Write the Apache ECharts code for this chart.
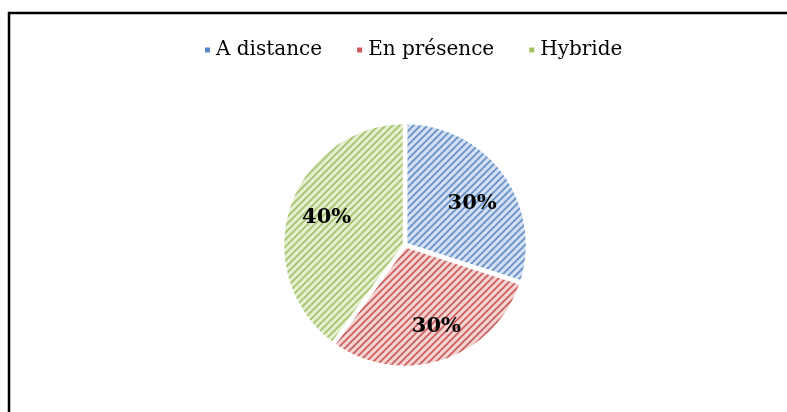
<!DOCTYPE html>
<html lang="fr">
<head>
    <meta charset="UTF-8">
    <title>Modalité</title>
    <style>
        html, body { margin: 0; padding: 0; background: #fff; }
        #chart { width: 787px; height: 412px; }
    </style>
</head>
<body>
    <div id="chart"></div>
    <script src="https://cdn.jsdelivr.net/npm/echarts@6/dist/echarts.min.js"></script>
    <script>
    var categories = ['A distance', 'En présence', 'Hybride'];
    var values = [30, 30, 40];
    var baseColors = ['#d3e0f1', '#f4d3d3', '#e3eed0'];
    var stripeColors = ['#6690cb', '#cd5e5c', '#a5c46a'];
    var legendColors = ['#5b87c6', '#cc5a58', '#a2c163'];

    // motif hachuré (diagonales)
    function hatch(base, stripe) {
        var c = document.createElement('canvas');
        c.width = 7;
        c.height = 7;
        var ctx = c.getContext('2d');
        ctx.fillStyle = base;
        ctx.fillRect(0, 0, 7, 7);
        ctx.strokeStyle = stripe;
        ctx.lineWidth = 1.7;
        ctx.beginPath();
        ctx.moveTo(-1, 8); ctx.lineTo(8, -1);
        ctx.moveTo(-1, 1); ctx.lineTo(1, -1);
        ctx.moveTo(6, 8); ctx.lineTo(8, 6);
        ctx.stroke();
        return c;
    }

    var pieData = categories.map(function (name, i) {
        return {
            name: name,
            value: values[i],
            itemStyle: { color: { image: hatch(baseColors[i], stripeColors[i]), repeat: 'repeat' } }
        };
    });
    var labelData = categories.map(function (name, i) {
        return { name: name, value: values[i] };
    });

    var myChart = echarts.init(document.getElementById('chart'));
    var option = {
        animation: false,
        legend: {
            top: 35,
            left: 198,
            itemWidth: 7,
            itemHeight: 7,
            itemGap: 33,
            icon: 'rect',
            textStyle: { fontFamily: 'DejaVu Serif', fontSize: 20, color: '#000', padding: [0, 0, 0, 0] },
            data: categories.map(function (name, i) {
                return { name: name, itemStyle: { color: legendColors[i] } };
            })
        },
        graphic: [{
            type: 'polyline',
            shape: { points: [[9, 420], [9, 13], [800, 13]] },
            style: { stroke: '#000', lineWidth: 2.5, fill: null }
        }],
        series: [
            {
                type: 'pie',
                center: [405, 245],
                radius: [0, 123],
                startAngle: 90,
                silent: true,
                label: { show: false },
                labelLine: { show: false },
                itemStyle: { borderColor: '#fff', borderWidth: 4.5 },
                data: pieData
            },
            {
                type: 'pie',
                center: [405, 245],
                radius: [44, 121],
                startAngle: 90,
                silent: true,
                itemStyle: { color: 'rgba(0,0,0,0)', borderWidth: 0 },
                label: {
                    show: true,
                    position: 'inside',
                    formatter: '{d}%',
                    fontFamily: 'DejaVu Serif',
                    fontWeight: 'bold',
                    fontSize: 21,
                    color: '#000'
                },
                labelLayout: function (params) {
                    if (params.dataIndex === 0) return { dx: -2, dy: 9 };
                    if (params.dataIndex === 1) return { dx: 5, dy: 0 };
                    return { dx: 3, dy: -1 };
                },
                labelLine: { show: false },
                data: labelData
            }
        ]
    };
    myChart.setOption(option);
    </script>
</body>
</html>
